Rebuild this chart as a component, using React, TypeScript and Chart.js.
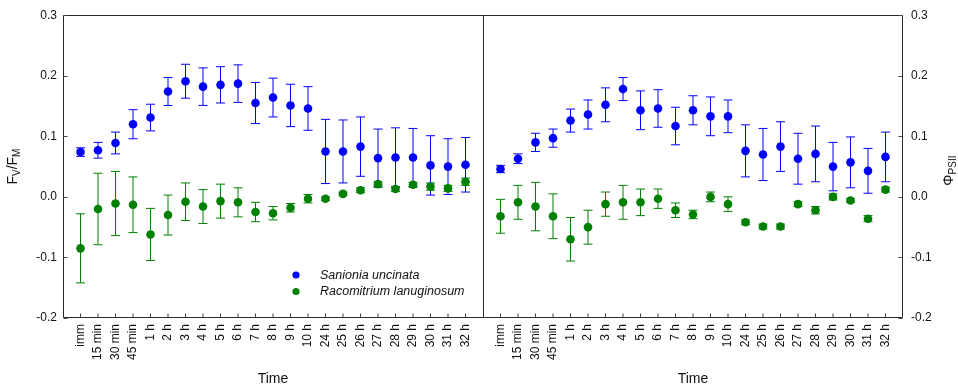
import React, { useEffect, useRef } from "react";
import { Chart, registerables } from "chart.js";

Chart.register(...registerables);

// ---- data ----
const timeLabels = [
  "imm", "15 min", "30 min", "45 min", "1 h", "2 h", "3 h", "4 h", "5 h", "6 h", "7 h",
  "8 h", "9 h", "10 h", "24 h", "25 h", "26 h", "27 h", "28 h", "29 h", "30 h", "31 h", "32 h",
];

const fvfmSanionia = [0.074, 0.077, 0.089, 0.120, 0.131, 0.174, 0.191, 0.182, 0.185, 0.187, 0.155, 0.164, 0.151, 0.146, 0.075, 0.075, 0.083, 0.064, 0.065, 0.065, 0.052, 0.050, 0.053];
const fvfmSanioniaErr = [0.007, 0.013, 0.018, 0.024, 0.022, 0.023, 0.028, 0.031, 0.030, 0.031, 0.034, 0.032, 0.035, 0.036, 0.053, 0.052, 0.049, 0.048, 0.049, 0.048, 0.049, 0.046, 0.045];
const fvfmRacomitrium = [-0.085, -0.020, -0.011, -0.013, -0.062, -0.030, -0.008, -0.016, -0.007, -0.009, -0.025, -0.027, -0.018, -0.003, -0.003, 0.005, 0.011, 0.021, 0.013, 0.020, 0.017, 0.014, 0.025];
const fvfmRacomitriumErr = [0.057, 0.059, 0.053, 0.046, 0.043, 0.033, 0.031, 0.028, 0.028, 0.024, 0.016, 0.011, 0.007, 0.007, 0.003, 0.003, 0.004, 0.004, 0.004, 0.004, 0.006, 0.005, 0.006];

const psiiSanionia = [0.046, 0.063, 0.090, 0.097, 0.126, 0.136, 0.152, 0.178, 0.143, 0.146, 0.117, 0.143, 0.133, 0.133, 0.076, 0.070, 0.083, 0.063, 0.071, 0.050, 0.057, 0.043, 0.066];
const psiiSanioniaErr = [0.006, 0.008, 0.015, 0.015, 0.019, 0.024, 0.028, 0.019, 0.032, 0.031, 0.031, 0.024, 0.032, 0.027, 0.043, 0.043, 0.041, 0.042, 0.046, 0.040, 0.042, 0.037, 0.041];
const psiiRacomitrium = [-0.032, -0.009, -0.016, -0.032, -0.070, -0.050, -0.012, -0.009, -0.009, -0.003, -0.022, -0.029, 0.000, -0.012, -0.042, -0.049, -0.049, -0.012, -0.022, 0.000, -0.006, -0.036, 0.012];
const psiiRacomitriumErr = [0.028, 0.028, 0.040, 0.037, 0.036, 0.028, 0.020, 0.028, 0.022, 0.016, 0.012, 0.007, 0.008, 0.012, 0.004, 0.004, 0.004, 0.004, 0.006, 0.005, 0.003, 0.005, 0.004];

const yTicks = [-0.2, -0.1, 0.0, 0.1, 0.2, 0.3];
const seriesNames = ["Sanionia uncinata", "Racomitrium lanuginosum"];
const xTitle = "Time";

const BLUE = "rgb(0,0,255)";
const GREEN = "rgb(0,128,0)";
const FRAME = "#2a2a2a";
const FONT = "Arial, 'Liberation Sans', sans-serif";

const N = timeLabels.length;
const RIGHT_OFFSET = N + 1; // right panel positions
const DIVIDER = N;

const pts = (vals: number[], off: number) => vals.map((v, i) => ({ x: i + off, y: v }));

function drawRotatedTitle(ctx: CanvasRenderingContext2D, cx: number, cy: number, parts: { t: string; sub?: boolean }[]) {
  ctx.save();
  ctx.translate(cx, cy);
  ctx.rotate(-Math.PI / 2);
  ctx.fillStyle = "#111";
  ctx.textBaseline = "middle";
  ctx.textAlign = "left";
  const widths = parts.map((p) => {
    ctx.font = `${p.sub ? 10 : 14}px ${FONT}`;
    return ctx.measureText(p.t).width;
  });
  const total = widths.reduce((a, b) => a + b, 0);
  let x = -total / 2;
  parts.forEach((p, i) => {
    ctx.font = `${p.sub ? 10 : 14}px ${FONT}`;
    ctx.fillText(p.t, x, p.sub ? 4 : 0);
    x += widths[i];
  });
  ctx.restore();
}

const errorBarPlugin = {
  id: "errorBars",
  beforeDatasetsDraw(chart: any) {
    const ctx = chart.ctx;
    const order = [...chart.data.datasets.keys()].reverse();
    order.forEach((di: number) => {
      const ds = chart.data.datasets[di];
      const meta = chart.getDatasetMeta(di);
      const yScale = chart.scales[meta.yAxisID];
      ctx.save();
      ctx.strokeStyle = ds.backgroundColor;
      ctx.lineWidth = 1;
      meta.data.forEach((el: any, i: number) => {
        const v = ds.data[i].y;
        const e = ds.errors[i];
        const yt = yScale.getPixelForValue(v + e);
        const yb = yScale.getPixelForValue(v - e);
        const x = el.x;
        ctx.beginPath();
        ctx.moveTo(x, yt);
        ctx.lineTo(x, yb);
        ctx.moveTo(x - 4.5, yt);
        ctx.lineTo(x + 4.5, yt);
        ctx.moveTo(x - 4.5, yb);
        ctx.lineTo(x + 4.5, yb);
        ctx.stroke();
      });
      ctx.restore();
    });
  },
};

const framePlugin = {
  id: "frame",
  afterDatasetsDraw(chart: any) {
    const ctx = chart.ctx;
    const { left, right, top, bottom } = chart.chartArea;
    const xs = chart.scales.x;
    const yL = chart.scales.y;
    const yR = chart.scales.y2;
    const L = Math.round(left) + 0.5;
    const R = Math.round(right) - 0.5;
    const T = Math.round(top) + 0.5;
    const B = Math.round(bottom) - 0.5;
    ctx.save();
    ctx.strokeStyle = FRAME;
    ctx.lineWidth = 1;
    ctx.beginPath();
    ctx.rect(L, T, R - L, B - T);
    const dx = Math.round(xs.getPixelForValue(DIVIDER)) + 0.5;
    ctx.moveTo(dx, T);
    ctx.lineTo(dx, B);
    ctx.stroke();
    // inward ticks
    ctx.strokeStyle = "#444";
    ctx.beginPath();
    yTicks.forEach((t) => {
      const py = Math.round(yL.getPixelForValue(t)) + 0.5;
      ctx.moveTo(L, py);
      ctx.lineTo(L + 4, py);
      const pr = Math.round(yR.getPixelForValue(t)) + 0.5;
      ctx.moveTo(R, pr);
      ctx.lineTo(R - 4, pr);
    });
    for (let p = 0; p < 2; p++) {
      timeLabels.forEach((_, i) => {
        const px = xs.getPixelForValue(i + p * RIGHT_OFFSET);
        ctx.moveTo(px, B);
        ctx.lineTo(px, B - 4);
      });
    }
    ctx.stroke();
    ctx.restore();
  },
  afterDraw(chart: any) {
    const ctx = chart.ctx;
    const { left, right, top, bottom } = chart.chartArea;
    const xs = chart.scales.x;
    // x titles
    ctx.save();
    ctx.fillStyle = "#111";
    ctx.font = `14px ${FONT}`;
    ctx.textAlign = "center";
    ctx.textBaseline = "middle";
    const c1 = (xs.getPixelForValue(-1) + xs.getPixelForValue(DIVIDER)) / 2;
    const c2 = (xs.getPixelForValue(DIVIDER) + xs.getPixelForValue(RIGHT_OFFSET + N)) / 2;
    ctx.fillText(xTitle, c1, bottom + 61);
    ctx.fillText(xTitle, c2, bottom + 61);
    ctx.restore();
    // y titles
    const midY = (top + bottom) / 2;
    drawRotatedTitle(ctx, left - 50, midY, [
      { t: "F" }, { t: "V", sub: true }, { t: "/F" }, { t: "M", sub: true },
    ]);
    drawRotatedTitle(ctx, right + 46, midY + 4, [{ t: "Φ" }, { t: "PSII", sub: true }]);
    // legend
    const lx = xs.getPixelForValue(DIVIDER) - 187;
    const ly = bottom - 43;
    const items = [
      { name: seriesNames[0], color: BLUE },
      { name: seriesNames[1], color: GREEN },
    ];
    ctx.save();
    ctx.font = `italic 12.5px ${FONT}`;
    ctx.textAlign = "left";
    ctx.textBaseline = "middle";
    items.forEach((it, k) => {
      const y = ly + k * 16.5;
      ctx.fillStyle = it.color;
      ctx.beginPath();
      ctx.arc(lx, y, 3.6, 0, Math.PI * 2);
      ctx.fill();
      ctx.fillStyle = "#111";
      ctx.fillText(it.name, lx + 24, y + 0.5);
    });
    ctx.restore();
  },
};

export default function App() {
  const ref = useRef<HTMLCanvasElement | null>(null);
  useEffect(() => {
    if (!ref.current) return;
    const mk = (label: string, vals: number[], errs: number[], off: number, color: string, axis: string) => ({
      label,
      data: pts(vals, off),
      errors: errs,
      yAxisID: axis,
      backgroundColor: color,
      borderColor: color,
      pointRadius: 4.3,
      pointBorderWidth: 0,
      showLine: false,
    });
    const chart = new Chart(ref.current, {
      type: "scatter",
      data: {
        datasets: [
          mk(seriesNames[1], fvfmRacomitrium, fvfmRacomitriumErr, 0, GREEN, "y"),
          mk(seriesNames[1], psiiRacomitrium, psiiRacomitriumErr, RIGHT_OFFSET, GREEN, "y2"),
          mk(seriesNames[0], fvfmSanionia, fvfmSanioniaErr, 0, BLUE, "y"),
          mk(seriesNames[0], psiiSanionia, psiiSanioniaErr, RIGHT_OFFSET, BLUE, "y2"),
        ] as any,
      },
      options: {
        animation: false,
        responsive: false,
        layout: { padding: { top: 15, left: 0, right: 0, bottom: 0 } },
        plugins: { legend: { display: false }, tooltip: { enabled: false } },
        scales: {
          x: {
            type: "linear",
            min: -1,
            max: RIGHT_OFFSET + N,
            grid: { display: false, drawTicks: false },
            border: { display: false },
            afterBuildTicks: (axis: any) => {
              const t: any[] = [];
              for (let p = 0; p < 2; p++) timeLabels.forEach((_, i) => t.push({ value: i + p * RIGHT_OFFSET }));
              axis.ticks = t;
            },
            afterFit: (s: any) => { s.height = 67; },
            ticks: {
              autoSkip: false,
              maxRotation: 90,
              minRotation: 90,
              padding: 6,
              color: "#111",
              font: { family: FONT, size: 12 },
              callback: (v: any) => {
                const n = Number(v);
                const i = n >= RIGHT_OFFSET ? n - RIGHT_OFFSET : n;
                return timeLabels[i] ?? "";
              },
            },
          },
          y: {
            type: "linear",
            position: "left",
            min: -0.2,
            max: 0.3,
            grid: { display: false, drawTicks: false },
            border: { display: false },
            afterBuildTicks: (axis: any) => { axis.ticks = yTicks.map((v) => ({ value: v })); },
            afterFit: (s: any) => { s.width = 63; },
            ticks: { padding: 6, color: "#111", font: { family: FONT, size: 12 }, callback: (v: any) => Number(v).toFixed(1) },
          },
          y2: {
            type: "linear",
            position: "right",
            min: -0.2,
            max: 0.3,
            grid: { display: false, drawTicks: false },
            border: { display: false },
            afterBuildTicks: (axis: any) => { axis.ticks = yTicks.map((v) => ({ value: v })); },
            afterFit: (s: any) => { s.width = 55; },
            ticks: { padding: 8, color: "#111", font: { family: FONT, size: 12 }, callback: (v: any) => Number(v).toFixed(1) },
          },
        },
      } as any,
      plugins: [errorBarPlugin, framePlugin],
    });
    return () => chart.destroy();
  }, []);
  return (
    <div style={{ position: "absolute", left: 0, top: 0, width: 958, height: 385, background: "#fff" }}>
      <canvas ref={ref} width={958} height={385} style={{ display: "block" }} />
    </div>
  );
}
